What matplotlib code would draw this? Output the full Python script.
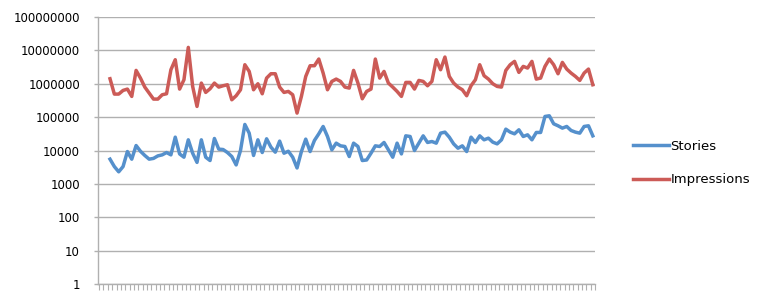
import matplotlib
matplotlib.use("Agg")
import matplotlib.pyplot as plt
import numpy as np

# series (log scale, one point per period)
stories = [
    5500, 3300, 2300, 3300, 9300, 5500, 14100, 9500, 7100, 5500,
    5800, 6900, 7400, 8700, 7400, 25100, 7900, 6300, 20900, 8300,
    4400, 20900, 6300, 5000, 22900, 11000, 10700, 8700, 6600, 3700,
    10000, 60300, 33100, 7100, 20900, 8700, 22400, 12600, 8900, 19100,
    8300, 9500, 6300, 3000, 9300, 21900, 9300, 20000, 31600, 52500,
    26300, 10500, 16600, 13800, 13200, 6600, 16600, 13200, 5000, 5200,
    8300, 13800, 13200, 17400, 10500, 6300, 16600, 7900, 27500, 26300,
    10000, 16600, 27500, 17400, 18600, 16600, 33100, 35500, 25100, 15800,
    11700, 13800, 9300, 25100, 17400, 27500, 20900, 23400, 17800, 15800,
    20900, 43600, 35500, 31600, 41700, 26300, 29500, 20900, 34700, 34700,
    104700, 109600, 63100, 55000, 46800, 52500, 39800, 35500, 33100, 52500,
    55000, 27500,
]

impressions = [
    1413000, 490000, 490000, 631000, 692000, 417000, 2512000, 1479000, 794000, 525000,
    347000, 347000, 468000, 501000, 2630000, 5248000, 692000, 1318000, 12300000, 832000,
    209000, 1047000, 550000, 708000, 1047000, 794000, 871000, 933000, 331000, 437000,
    661000, 3715000, 2344000, 661000, 1000000, 501000, 1479000, 1995000, 1995000, 794000,
    550000, 589000, 468000, 132000, 417000, 1660000, 3467000, 3467000, 5495000, 2089000,
    661000, 1175000, 1380000, 1175000, 794000, 741000, 2512000, 1047000, 355000, 589000,
    692000, 5495000, 1479000, 2344000, 1047000, 794000, 589000, 417000, 1096000, 1096000,
    692000, 1259000, 1175000, 871000, 1175000, 5248000, 2630000, 6310000, 1660000, 1047000,
    794000, 661000, 437000, 871000, 1318000, 3715000, 1738000, 1380000, 1000000, 832000,
    794000, 2512000, 3715000, 4677000, 2188000, 3311000, 2951000, 4677000, 1380000, 1479000,
    3311000, 5495000, 3715000, 1995000, 4365000, 2754000, 2089000, 1660000, 1259000, 2089000,
    2754000, 933000,
]

y_ticks = [1, 10, 100, 1000, 10000, 100000, 1000000, 10000000, 100000000]

blue = "#5590cc"
red = "#cc5b57"
grey = "#b0b0b0"

fig = plt.figure(figsize=(7.62, 2.91), dpi=100)
ax = fig.add_axes([98 / 762, 1 - 284 / 291, (595 - 98) / 762, (284 - 17) / 291])

ax.plot(np.arange(len(stories)), stories, color=blue, linewidth=2.5,
        label="Stories", solid_joinstyle="round")
ax.plot(np.arange(len(impressions)), impressions, color=red, linewidth=2.5,
        label="Impressions", solid_joinstyle="round")

ax.set_yscale("log")
ax.set_ylim(1, 100000000)
ax.set_yticks(y_ticks)
ax.set_yticklabels([str(v) for v in y_ticks])
ax.yaxis.set_minor_locator(matplotlib.ticker.NullLocator())

n = len(stories)
ax.set_xlim(-2.76, n - 0.5)
ax.set_xticks(np.arange(-2.5, n, 1.0))
ax.set_xticklabels([])

ax.grid(axis="y", color=grey, linewidth=1.0)
ax.set_axisbelow(True)
for side in ["top", "right"]:
    ax.spines[side].set_visible(False)
for side in ["left", "bottom"]:
    ax.spines[side].set_color(grey)
    ax.spines[side].set_linewidth(1.0)

ax.tick_params(axis="y", length=3, width=1.0, color=grey, pad=10,
               labelsize=8.5, labelcolor="black")
ax.tick_params(axis="x", length=4, width=0.8, color=grey)

fig.legend(loc="center left", bbox_to_anchor=(633 / 762, 1 - 163 / 291),
           frameon=False, fontsize=9.5, handlelength=2.7, handletextpad=0.15,
           labelspacing=1.55, borderpad=0, borderaxespad=0)

fig.savefig("out.png", dpi=100)
